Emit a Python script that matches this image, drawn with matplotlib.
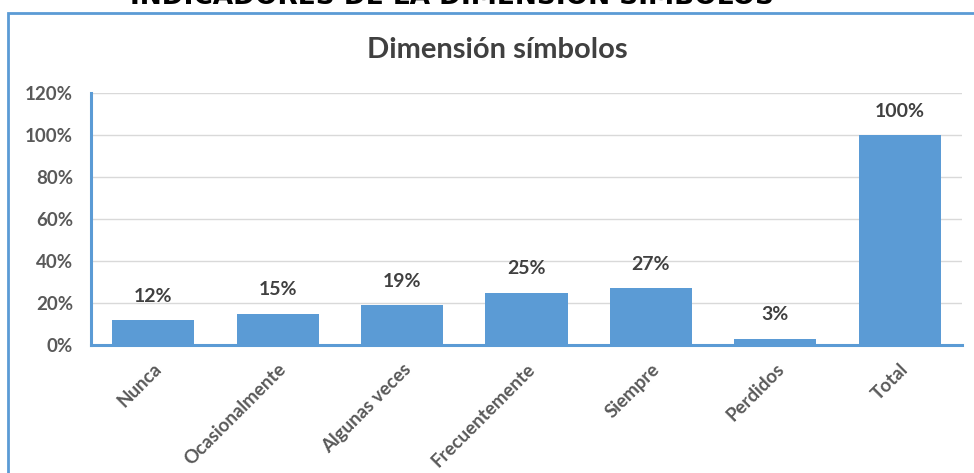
import matplotlib
matplotlib.use('Agg')
import matplotlib.pyplot as plt
from matplotlib.patches import Rectangle
from matplotlib.ticker import FuncFormatter

BLUE = '#5B9BD5'; INK = '#404040'; MUTE = '#595959'; GRID = '#D9D9D9'
plt.rcParams.update({'font.family': ['Lato', 'DejaVu Sans']})

categorias = ['Nunca', 'Ocasionalmente', 'Algunas veces', 'Frecuentemente', 'Siempre', 'Perdidos', 'Total']
porcentajes = [12, 15, 19, 25, 27, 3, 100]
yticks = [0, 20, 40, 60, 80, 100, 120]

W, H = 974, 473
fig = plt.figure(figsize=(W / 100, H / 100), dpi=100)
fig.patch.set_facecolor('white')

# heading of the page, cut at the top edge
fig.text(452 / W, 1 - 4 / H, 'INDICADORES DE LA DIMENSIÓN SÍMBOLOS', ha='center', va='baseline',
         fontsize=19, fontweight='bold', color='black', family='DejaVu Sans')

# blue frame around the chart
fig.add_artist(Rectangle((8 / W, -0.1), 1.2, 1 - 13 / H + 0.1, transform=fig.transFigure,
                         fill=False, edgecolor=BLUE, linewidth=2))

ax = fig.add_axes([91 / W, 1 - 345 / H, (962 - 91) / W, (345 - 93) / H])
x = range(len(categorias))
ax.bar(x, porcentajes, width=0.66, color=BLUE, zorder=3)
ax.set_xlim(-0.5, len(categorias) - 0.5)
ax.set_ylim(0, 120)
ax.set_yticks(yticks)
ax.yaxis.set_major_formatter(FuncFormatter(lambda v, p: f'{v:.0f}%'))
ax.grid(axis='y', color=GRID, linewidth=1, zorder=0)
ax.set_axisbelow(True)

for s in ['top', 'right']:
    ax.spines[s].set_visible(False)
for s in ['left', 'bottom']:
    ax.spines[s].set_color(BLUE)
    ax.spines[s].set_linewidth(2.2)

ax.tick_params(axis='both', length=0, colors=MUTE, labelsize=13.5)
ax.tick_params(axis='y', pad=13)
ax.tick_params(axis='x', pad=11)
ax.set_xticks(list(x))
ax.set_xticklabels(categorias, rotation=45, ha='right', rotation_mode='anchor', fontweight='bold')
for lab in ax.get_yticklabels():
    lab.set_fontweight('bold')

for i, v in zip(x, porcentajes):
    ax.annotate(f'{v}%', (i, v), xytext=(0, 11), textcoords='offset points', ha='center',
                va='bottom', fontsize=14, fontweight='bold', color=INK)

fig.text(497 / W, 1 - 50 / H, 'Dimensión símbolos', ha='center', va='center',
         fontsize=21, fontweight='bold', color=INK)

fig.savefig('out.png', dpi=100, facecolor='white')
